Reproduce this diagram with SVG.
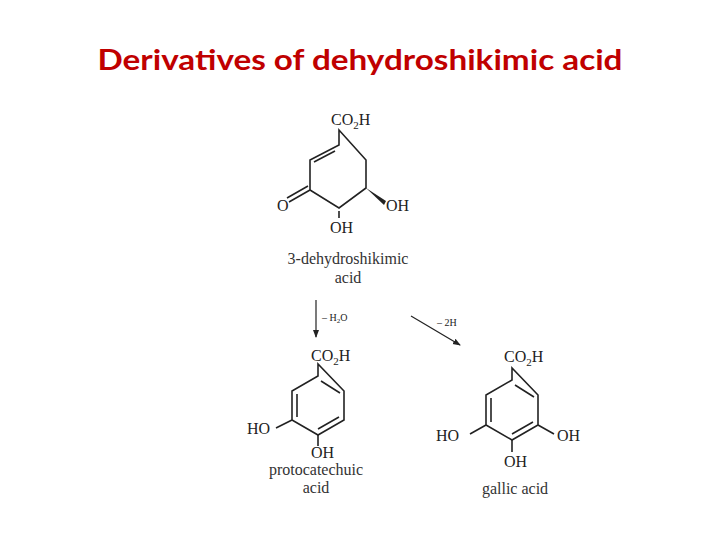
<svg xmlns="http://www.w3.org/2000/svg" width="720" height="540" viewBox="0 0 720 540">
<style>
.b{stroke:#222;stroke-width:1.6;fill:none}
.t{font-family:"Liberation Serif",serif;font-size:16px;fill:#222}
.s{font-family:"Liberation Serif",serif;font-size:10px;fill:#222}
.lbl{font-family:"Liberation Serif",serif;font-size:16px;fill:#333;text-anchor:middle}
</style>
<defs><marker id="ah" markerWidth="8" markerHeight="8" refX="7" refY="4" orient="auto" markerUnits="userSpaceOnUse"><path d="M0,1 L8,4 L0,7 Z" fill="#222"/></marker></defs>
<rect width="720" height="540" fill="#fff"/>
<text x="360" y="70" text-anchor="middle" font-family="Lato,'Open Sans',sans-serif" font-weight="bold" font-size="29" fill="#C00000" textLength="525" lengthAdjust="spacingAndGlyphs">Derivatives of dehydroshikimic acid</text>
<g id="dehydroshikimic">
<path class="b" d="M339,130 V145 L310,160 V190 L339,208 L366,188 V160 Z"/>
<path class="b" d="M335,151 L314,162"/>
<path class="b" d="M310,190 L289,202 M308,186 L287,198"/>
<path d="M366,188 L386,201 L384,205 Z" fill="#222"/>
<path class="b" d="M339,211 V218"/>
<text class="t" x="331" y="125">CO<tspan font-size="11" dy="4">2</tspan><tspan dy="-4">H</tspan></text>
<text class="t" x="277" y="211">O</text>
<text class="t" x="386" y="211">OH</text>
<text class="t" x="330" y="233">OH</text>
<text class="lbl" x="348" y="264">3-dehydroshikimic</text>
<text class="lbl" x="348" y="283">acid</text>
</g>
<g id="connectors">
<path class="b" style="stroke-width:1.2" d="M316,300 V337" marker-end="url(#ah)"/>
<text class="s" x="322" y="321">– H<tspan font-size="7" dy="2">2</tspan><tspan dy="-2">O</tspan></text>
<path class="b" style="stroke-width:1.2" d="M411,316 L460,345" marker-end="url(#ah)"/>
<text class="s" x="437" y="326" font-size="8">– 2H</text>
</g>
<g id="protocatechuic">
<path class="b" d="M318,364 V376 L292,391 V420 L318,435 L344,420 V391 Z"/>
<path class="b" d="M297,394 V417 M318,429 L339,417 M321,381 L340,393"/>
<path class="b" d="M292,420 L276,428 M318,435 V446"/>
<text class="t" x="311" y="361">CO<tspan font-size="11" dy="4">2</tspan><tspan dy="-4">H</tspan></text>
<text class="t" x="247" y="434">HO</text>
<text class="t" x="311" y="458">OH</text>
<text class="lbl" x="316" y="475">protocatechuic</text>
<text class="lbl" x="316" y="493">acid</text>
</g>
<g id="gallic">
<path class="b" d="M512,368 V380 L486,395 V425 L512,440 L538,425 V395 Z"/>
<path class="b" d="M491,398 V422 M512,434 L533,422 M515,385 L534,397"/>
<path class="b" d="M486,425 L470,434 M538,425 L554,434 M512,440 V452"/>
<text class="t" x="504" y="362">CO<tspan font-size="11" dy="4">2</tspan><tspan dy="-4">H</tspan></text>
<text class="t" x="436" y="441">HO</text>
<text class="t" x="557" y="441">OH</text>
<text class="t" x="504" y="467">OH</text>
<text class="lbl" x="515" y="494">gallic acid</text>
</g>
</svg>
